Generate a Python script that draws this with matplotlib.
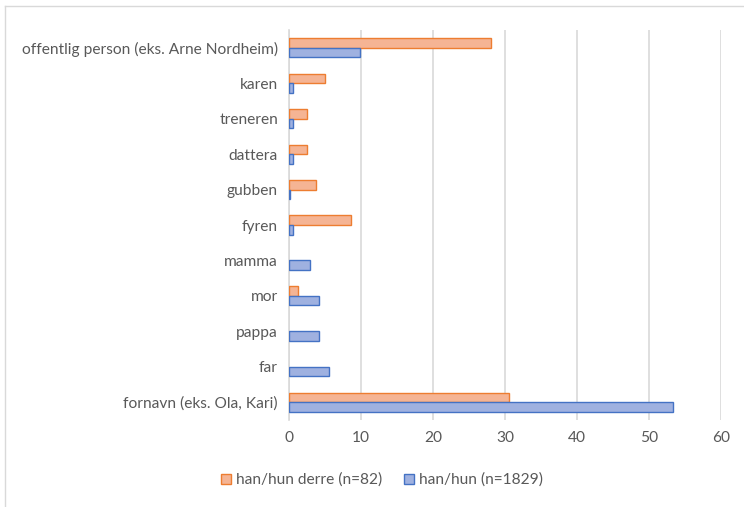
import matplotlib
matplotlib.use("Agg")
import matplotlib.pyplot as plt
import numpy as np
from matplotlib.patches import Patch
from matplotlib.lines import Line2D

categories = ["offentlig person (eks. Arne Nordheim)", "karen", "treneren", "dattera",
              "gubben", "fyren", "mamma", "mor", "pappa", "far", "fornavn (eks. Ola, Kari)"]
derre = [28.1, 4.95, 2.45, 2.45, 3.7, 8.6, 0, 1.3, 0, 0, 30.6]
hanhun = [9.8, 0.5, 0.5, 0.5, 0.15, 0.5, 2.9, 4.2, 4.2, 5.5, 53.3]
xticks = [0, 10, 20, 30, 40, 50, 60]
series_names = ["han/hun derre (n=82)", "han/hun (n=1829)"]

plt.rcParams['font.family'] = ['Lato', 'DejaVu Sans']
txt = '#595959'
fs = 11.2

fig = plt.figure(figsize=(7.44, 5.07), dpi=100)
ax = fig.add_axes([289/744, 1-420/507, (721-289)/744, (420-30)/507])

n = len(categories)
y = np.arange(n)[::-1]  # first category at top
h = 0.27
o_fill, o_edge = '#F5B494', '#ED7D31'
b_fill, b_edge = '#9FB1E0', '#4472C4'

d = np.array(derre, dtype=float)
b = np.array(hanhun, dtype=float)
md = d > 0
mb = b > 0
ax.barh(y[md] + h/2, d[md], height=h, color=o_fill, edgecolor=o_edge, linewidth=1.0, zorder=3)
ax.barh(y[mb] - h/2, b[mb], height=h, color=b_fill, edgecolor=b_edge, linewidth=1.0, zorder=3)

ax.set_xlim(0, 60)
ax.set_ylim(-0.5, n - 0.5)
ax.set_xticks(xticks)
ax.set_xticklabels([str(v) for v in xticks])
ax.set_yticks(y)
ax.set_yticklabels(categories)
ax.tick_params(axis='both', length=0, labelsize=fs, colors=txt)
ax.tick_params(axis='x', pad=8)
ax.tick_params(axis='y', pad=8)
ax.grid(axis='x', color='#D9D9D9', linewidth=1.2, zorder=0)
for s in ['top', 'right', 'bottom']:
    ax.spines[s].set_visible(False)
ax.spines['left'].set_color('#D9D9D9')
ax.spines['left'].set_linewidth(1.2)

handles = [Patch(facecolor=o_fill, edgecolor=o_edge, linewidth=1.0),
           Patch(facecolor=b_fill, edgecolor=b_edge, linewidth=1.0)]
leg = fig.legend(handles, series_names, loc='center', bbox_to_anchor=(382/744, 1-480/507),
                 ncol=2, frameon=False, fontsize=fs, handlelength=0.65, handleheight=0.65,
                 handletextpad=0.3, columnspacing=1.4)
for t in leg.get_texts():
    t.set_color(txt)

# outer chart border (left and top visible)
fig.add_artist(Line2D([4.5/744, 4.5/744], [0, 1-6/507], color='#D9D9D9', linewidth=1.0))
fig.add_artist(Line2D([4.5/744, 1], [1-6/507, 1-6/507], color='#D9D9D9', linewidth=1.0))

fig.savefig("out.png", dpi=100, facecolor='white')
